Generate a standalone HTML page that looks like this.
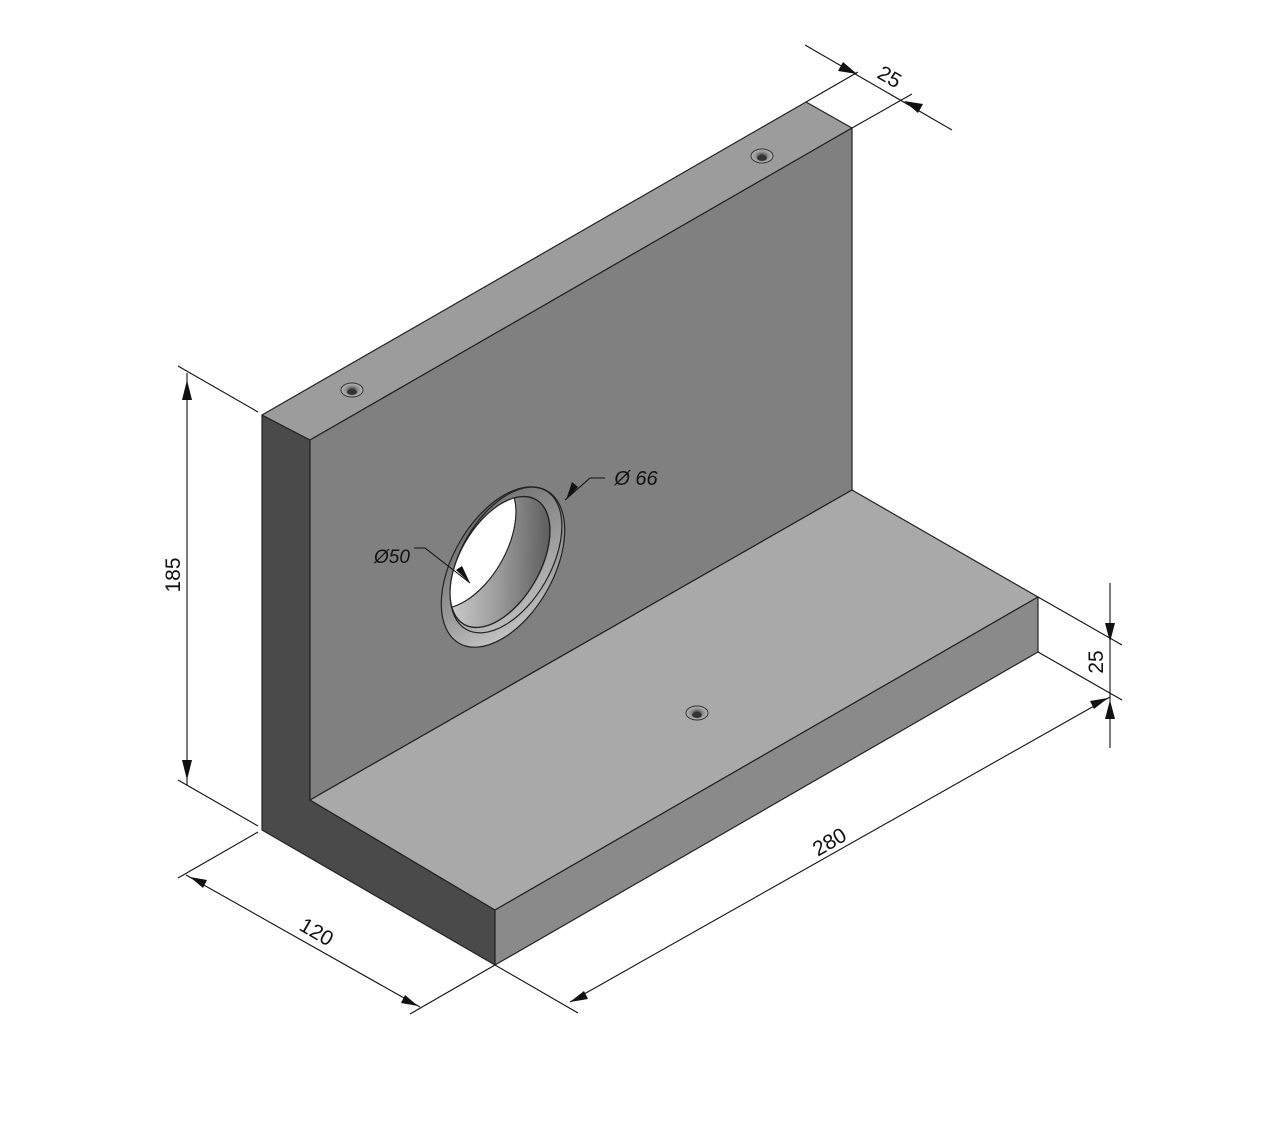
<!DOCTYPE html>
<html><head><meta charset="utf-8"><style>html,body{margin:0;padding:0;background:#fff}svg{display:block}</style></head>
<body>
<svg width="1280" height="1135" viewBox="0 0 1280 1135" xmlns="http://www.w3.org/2000/svg">
<defs>
<linearGradient id="hg" x1="0" y1="0" x2="1" y2="1">
<stop offset="0" stop-color="#5a5a5a"/><stop offset="0.6" stop-color="#9a9a9a"/><stop offset="1" stop-color="#d8d8d8"/></linearGradient>
<linearGradient id="hg2" x1="0" y1="0" x2="1" y2="1">
<stop offset="0" stop-color="#6a6a6a"/><stop offset="1" stop-color="#c8c8c8"/></linearGradient>
<linearGradient id="hg3" x1="1" y1="0" x2="0" y2="1">
<stop offset="0" stop-color="#444"/><stop offset="0.5" stop-color="#9a9a9a"/><stop offset="1" stop-color="#e0e0e0"/></linearGradient>
<radialGradient id="sh"><stop offset="0" stop-color="#222"/><stop offset="0.5" stop-color="#888"/><stop offset="1" stop-color="#bbb"/></radialGradient>
<clipPath id="fc" clipPathUnits="userSpaceOnUse"><ellipse cx="500" cy="562" rx="40" ry="72" transform="rotate(30 500 562)"/></clipPath>
</defs>
<g stroke="#222" stroke-width="1.2" stroke-linejoin="round">
<polygon points="262,415 310,440 310,800 495,910 495,965 262,830" fill="#4a4a4a"/>
<polygon points="262,415 806,102 852,128 310,440" fill="#9c9c9c"/>
<polygon points="310,440 852,128 852,490 310,800" fill="#808080"/>
<polygon points="310,800 852,490 1038,597 495,910" fill="#a9a9a9"/>
<polygon points="495,910 1038,597 1038,652 495,965" fill="#8a8a8a"/>
</g>
<g stroke="#222" stroke-width="1.2">
<ellipse cx="503" cy="567" rx="50" ry="88" transform="rotate(30 503 567)" fill="url(#hg)"/>
<ellipse cx="506" cy="560" rx="45" ry="80" transform="rotate(30 506 560)" fill="url(#hg2)"/>
<ellipse cx="500" cy="562" rx="40" ry="72" transform="rotate(30 500 562)" fill="url(#hg3)"/>
<g clip-path="url(#fc)">
<ellipse cx="466" cy="543" rx="40" ry="72" transform="rotate(30 466 543)" fill="#fff"/>
</g>
<ellipse cx="500" cy="562" rx="40" ry="72" transform="rotate(30 500 562)" fill="none"/>
</g>
<g>
<ellipse cx="352" cy="390" rx="11" ry="7" fill="url(#sh)" stroke="#333"/>
<ellipse cx="352" cy="392" rx="5" ry="3" fill="#333"/>
<ellipse cx="762" cy="156" rx="11" ry="7" fill="url(#sh)" stroke="#333"/>
<ellipse cx="762" cy="158" rx="5" ry="3" fill="#333"/>
<ellipse cx="697" cy="713" rx="11" ry="7" fill="url(#sh)" stroke="#333"/>
<ellipse cx="697" cy="715" rx="5" ry="3" fill="#333"/>
</g>
<g stroke="#111" stroke-width="1.1" fill="none">
<line x1="258" y1="412" x2="178" y2="366"/>
<line x1="258" y1="826" x2="178" y2="780"/>
<line x1="187" y1="373" x2="187" y2="785"/>
<line x1="258" y1="832" x2="178" y2="878"/>
<line x1="495" y1="965" x2="410" y2="1014"/>
<line x1="186" y1="875" x2="420" y2="1007"/>
<line x1="495" y1="965" x2="578" y2="1013"/>
<line x1="1038" y1="652" x2="1122" y2="700"/>
<line x1="570" y1="1002" x2="1110" y2="697"/>
<line x1="1038" y1="597" x2="1122" y2="645"/>
<line x1="1110" y1="583" x2="1110" y2="748"/>
<line x1="806" y1="102" x2="858" y2="72"/>
<line x1="852" y1="128" x2="912" y2="94"/>
<line x1="805" y1="45" x2="952" y2="130"/>
<polyline points="414,548 425,548 470,583"/>
<polyline points="565,500 590,478 605,478"/>
</g>
<g fill="#111">
<polygon points="187,380 182,400 192,400"/>
<polygon points="187,780 182,760 192,760"/>
<polygon points="190,877 207,880 203,888"/>
<polygon points="418,1006 401,1003 405,995"/>
<polygon points="570,1002 584,991 588,999"/>
<polygon points="1108,698 1094,709 1090,701"/>
<polygon points="1110,642 1105,623 1115,623"/>
<polygon points="1110,700 1105,719 1115,719"/>
<polygon points="857,74 838,71 843,62"/>
<polygon points="904,101 923,104 918,113"/>
<polygon points="470,583 456,570 462,566"/>
<polygon points="566,500 572,482 578,487"/>
</g>
<g font-family="Liberation Sans, sans-serif" font-size="21" fill="#111" text-anchor="middle">
<text transform="translate(180,575) rotate(-90)">185</text>
<text transform="translate(313,938) rotate(30)">120</text>
<text transform="translate(833,848) rotate(-30)">280</text>
<text transform="translate(1103,662) rotate(-90)">25</text>
<text transform="translate(886,83) rotate(30)">25</text>
<text x="392" y="563" font-style="italic" font-size="19">Ø50</text>
<text x="636" y="485" font-style="italic" font-size="20">Ø 66</text>
</g>
</svg>
</body></html>
